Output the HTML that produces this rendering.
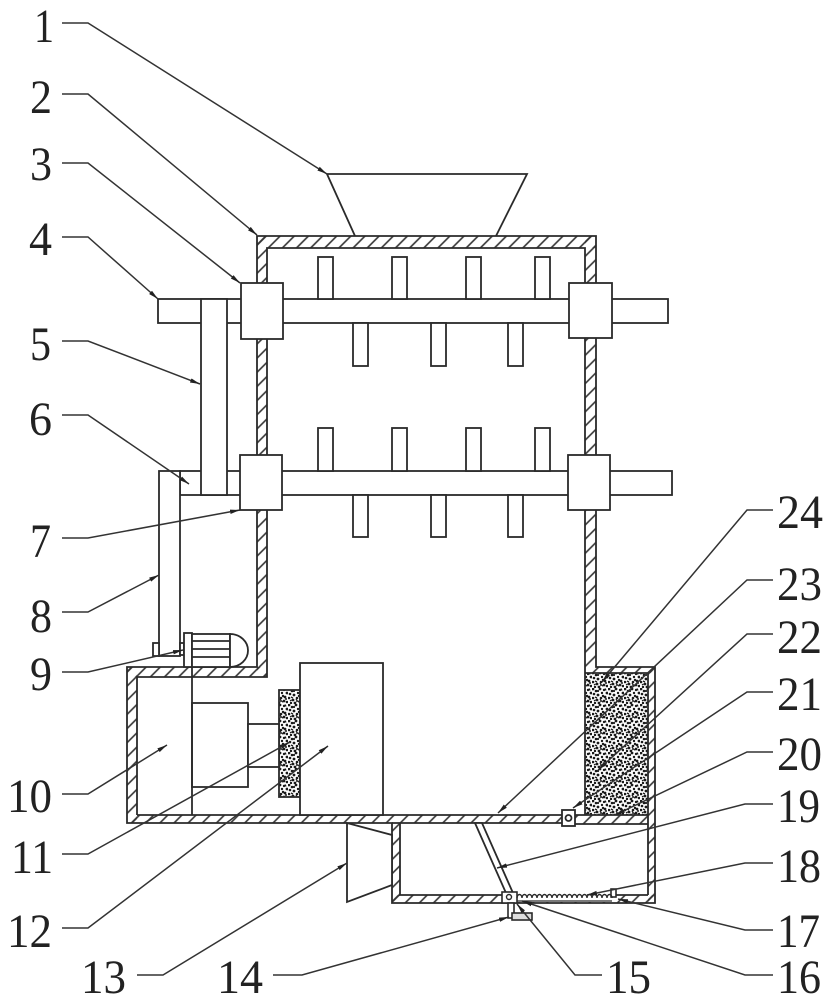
<!DOCTYPE html>
<html><head><meta charset="utf-8"><style>html,body{margin:0;padding:0;background:#fff}svg{display:block}</style></head>
<body>
<svg width="831" height="1000" viewBox="0 0 831 1000" xmlns="http://www.w3.org/2000/svg">
<defs>
<pattern id="h" width="10" height="10" patternUnits="userSpaceOnUse" patternTransform="rotate(45)">
<line x1="5" y1="-2" x2="5" y2="12" stroke="#333" stroke-width="1.6"/>
</pattern>
<pattern id="s" width="16" height="16" patternUnits="userSpaceOnUse">
<rect width="16" height="16" fill="#fff"/>
<g fill="#1a1a1a">
<circle cx="1" cy="1" r="1.4"/><circle cx="4" cy="3" r="1.3"/><circle cx="8" cy="1" r="1.4"/><circle cx="12" cy="2" r="1.2"/>
<circle cx="15" cy="5" r="1.4"/><circle cx="2" cy="6" r="1.3"/><circle cx="6" cy="7" r="1.4"/><circle cx="10" cy="5" r="1.2"/>
<circle cx="13" cy="9" r="1.4"/><circle cx="1" cy="10" r="1.3"/><circle cx="5" cy="12" r="1.4"/><circle cx="9" cy="10" r="1.3"/>
<circle cx="12" cy="13" r="1.4"/><circle cx="3" cy="15" r="1.2"/><circle cx="7" cy="15" r="1.4"/><circle cx="15" cy="14" r="1.3"/>
<circle cx="11" cy="8" r="1.2"/><circle cx="6" cy="3" r="1.1"/><circle cx="9" cy="13" r="1"/><circle cx="14" cy="11" r="1"/>
</g>
<g stroke="#1a1a1a" stroke-width="1.3" fill="none">
<path d="M3,9 l2,1"/><path d="M10,14 l2,-1"/><path d="M13,0.5 l1,2"/><path d="M8,12 l1,-1.5"/><path d="M2,13 l1.5,-1"/>
</g>
</pattern>
<marker id="a" markerWidth="11" markerHeight="6" refX="10" refY="3" orient="auto" markerUnits="userSpaceOnUse">
<path d="M0,0.8 L10,3 L0,5.2 Z" fill="#222"/>
</marker>
</defs>

<rect width="831" height="1000" fill="#fff"/>

<!-- hatched walls -->
<g fill="url(#h)">
<rect x="257" y="236" width="339" height="12"/>
<rect x="257" y="236" width="10" height="441"/>
<rect x="585" y="236" width="11" height="431"/>
<rect x="127" y="667" width="140" height="10"/>
<rect x="127" y="667" width="10" height="156"/>
<rect x="127" y="815" width="435" height="8"/>
<rect x="575" y="815" width="73" height="9"/>
<rect x="585" y="667" width="70" height="6"/>
<rect x="648" y="667" width="7" height="236"/>
<rect x="392" y="823" width="8" height="80"/>
<rect x="392" y="895" width="263" height="8"/>
</g>

<!-- stipple -->
<rect x="585" y="673" width="63" height="142" fill="url(#s)"/>
<rect x="279" y="690" width="21" height="107" fill="url(#s)" stroke="#2a2a2a" stroke-width="1.8"/>

<!-- outlines -->
<g fill="none" stroke="#2a2a2a" stroke-width="1.8">
<path d="M257,236 H596 V667 H655 V903 H392 V823 H127 V667 H257 Z"/>
<path d="M137,815 V677 H267 V248 H585 V815"/>
<path d="M137,815 H562 M575,815 H648"/>
<path d="M585,673 H648 V895"/>
<path d="M392,823 H562 M575,824 H648"/>
<path d="M400,823 V895 H648"/>
<!-- hopper -->
<path d="M355,236 L327,174 H527 L496,236"/>
</g>

<!-- shafts, belt, blades, blocks -->
<g fill="#fff" stroke="#2a2a2a" stroke-width="1.8">
<rect x="158" y="299" width="510" height="24"/>
<rect x="180" y="471" width="492" height="24"/>
<rect x="159" y="471" width="21" height="185"/>
<rect x="153" y="643" width="6" height="13"/>
<rect x="180" y="643" width="4" height="12"/>
<rect x="201" y="299" width="26" height="196"/>

<rect x="318" y="257" width="15" height="42"/>
<rect x="392" y="257" width="15" height="42"/>
<rect x="466" y="257" width="15" height="42"/>
<rect x="535" y="257" width="15" height="42"/>
<rect x="353" y="323" width="15" height="43"/>
<rect x="431" y="323" width="15" height="43"/>
<rect x="508" y="323" width="15" height="43"/>

<rect x="318" y="428" width="15" height="43"/>
<rect x="392" y="428" width="15" height="43"/>
<rect x="466" y="428" width="15" height="43"/>
<rect x="535" y="428" width="15" height="43"/>
<rect x="353" y="495" width="15" height="42"/>
<rect x="431" y="495" width="15" height="42"/>
<rect x="508" y="495" width="15" height="42"/>

<rect x="241" y="283" width="42" height="56"/>
<rect x="569" y="283" width="43" height="55"/>
<rect x="240" y="455" width="42" height="55"/>
<rect x="568" y="455" width="42" height="55"/>

<!-- motor -->
<rect x="184" y="633" width="8" height="34"/>
<rect x="192" y="634" width="38" height="33"/>
<path d="M230,634 A18,16.5 0 0 1 230,667 Z"/>

<!-- lower left internals -->
<rect x="192" y="703" width="56" height="84"/>
<rect x="248" y="724" width="31" height="43"/>
<rect x="300" y="663" width="83" height="152"/>

<!-- bearing 21 -->
<rect x="562" y="810" width="13" height="16"/>

<!-- outlet 13 -->
<path d="M347,823 L392,835 V885 L347,902 Z"/>
<!-- inclined plate 19 -->
<path d="M475,823 L482,823 L513,893 L506,893 Z"/>
</g>
<g fill="none" stroke="#2a2a2a" stroke-width="1.8">
<path d="M192,667 V815"/>
<path d="M192,641 H230 M192,649 H230 M192,657 H230"/>
<circle cx="568.5" cy="818" r="3"/>
</g>

<!-- spring & base -->
<rect x="517" y="890" width="95" height="12" fill="#fff"/>
<g fill="#fff" stroke="#2a2a2a" stroke-width="1.6">
<rect x="502" y="892" width="15" height="11"/>
<rect x="508" y="903" width="6" height="15"/>
<rect x="512" y="913" width="20" height="7" fill="#ddd"/>
<rect x="611" y="889" width="5" height="8"/>
</g>
<circle cx="509" cy="897" r="2.5" fill="none" stroke="#2a2a2a" stroke-width="1.4"/>
<path d="M517,898 a2.5,3.5 0 1 1 5,0 a2.5,3.5 0 1 1 5,0 a2.5,3.5 0 1 1 5,0 a2.5,3.5 0 1 1 5,0 a2.5,3.5 0 1 1 5,0 a2.5,3.5 0 1 1 5,0 a2.5,3.5 0 1 1 5,0 a2.5,3.5 0 1 1 5,0 a2.5,3.5 0 1 1 5,0 a2.5,3.5 0 1 1 5,0 a2.5,3.5 0 1 1 5,0 a2.5,3.5 0 1 1 5,0 a2.5,3.5 0 1 1 5,0 a2.5,3.5 0 1 1 5,0 a2.5,3.5 0 1 1 5,0 a2.5,3.5 0 1 1 5,0 a2.5,3.5 0 1 1 5,0 a2.5,3.5 0 1 1 5,0 a2.5,3.5 0 1 1 5,0" fill="none" stroke="#2a2a2a" stroke-width="1.4"/>
<path d="M517,901 H612" stroke="#2a2a2a" stroke-width="1.2"/>

<!-- leaders -->
<g fill="none" stroke="#333" stroke-width="1.5" marker-end="url(#a)">
<path d="M62,23 H88 L327,174"/>
<path d="M62,94 H88 L257,235"/>
<path d="M62,163 H88 L240,283"/>
<path d="M62,237 H88 L158,299"/>
<path d="M62,341 H88 L200,384"/>
<path d="M62,415 H88 L189,484"/>
<path d="M62,538 H88 L240,510"/>
<path d="M62,612 H88 L159,575"/>
<path d="M62,672 H88 L183,650"/>
<path d="M62,794 H88 L167,745"/>
<path d="M62,854 H88 L290,742"/>
<path d="M62,928 H88 L328,746"/>
<path d="M137,975 H163 L347,863"/>
<path d="M273,975 H302 L509,917"/>

<path d="M773,510 H747 L602,682"/>
<path d="M773,580 H747 L498,813"/>
<path d="M773,634 H747 L598,770"/>
<path d="M773,692 H747 L573,808"/>
<path d="M773,752 H747 L615,815"/>
<path d="M773,804 H745 L497,868"/>
<path d="M773,863 H745 L587,895"/>
<path d="M773,930 H745 L618,899"/>
<path d="M773,975 H745 L522,901"/>
<path d="M602,975 H575 L517,904"/>
</g>

<!-- labels -->
<g font-family="'Liberation Serif', serif" font-size="48" fill="#222">
<text x="34" y="42" textLength="20" lengthAdjust="spacingAndGlyphs">1</text>
<text x="30" y="113" textLength="22" lengthAdjust="spacingAndGlyphs">2</text>
<text x="30" y="180" textLength="22" lengthAdjust="spacingAndGlyphs">3</text>
<text x="29" y="255" textLength="23" lengthAdjust="spacingAndGlyphs">4</text>
<text x="30" y="360" textLength="21" lengthAdjust="spacingAndGlyphs">5</text>
<text x="29" y="435" textLength="23" lengthAdjust="spacingAndGlyphs">6</text>
<text x="30" y="557" textLength="21" lengthAdjust="spacingAndGlyphs">7</text>
<text x="30" y="632" textLength="22" lengthAdjust="spacingAndGlyphs">8</text>
<text x="30" y="690" textLength="22" lengthAdjust="spacingAndGlyphs">9</text>
<text x="7" y="812" textLength="45" lengthAdjust="spacingAndGlyphs">10</text>
<text x="11" y="873" textLength="42" lengthAdjust="spacingAndGlyphs">11</text>
<text x="7" y="947" textLength="45" lengthAdjust="spacingAndGlyphs">12</text>
<text x="81" y="993" textLength="45" lengthAdjust="spacingAndGlyphs">13</text>
<text x="217" y="993" textLength="46" lengthAdjust="spacingAndGlyphs">14</text>

<text x="777" y="528" textLength="46" lengthAdjust="spacingAndGlyphs">24</text>
<text x="777" y="600" textLength="45" lengthAdjust="spacingAndGlyphs">23</text>
<text x="777" y="653" textLength="45" lengthAdjust="spacingAndGlyphs">22</text>
<text x="777" y="710" textLength="45" lengthAdjust="spacingAndGlyphs">21</text>
<text x="777" y="770" textLength="45" lengthAdjust="spacingAndGlyphs">20</text>
<text x="777" y="822" textLength="43" lengthAdjust="spacingAndGlyphs">19</text>
<text x="777" y="882" textLength="44" lengthAdjust="spacingAndGlyphs">18</text>
<text x="777" y="947" textLength="43" lengthAdjust="spacingAndGlyphs">17</text>
<text x="777" y="993" textLength="44" lengthAdjust="spacingAndGlyphs">16</text>
<text x="606" y="993" textLength="45" lengthAdjust="spacingAndGlyphs">15</text>
</g>
</svg>
</body></html>
